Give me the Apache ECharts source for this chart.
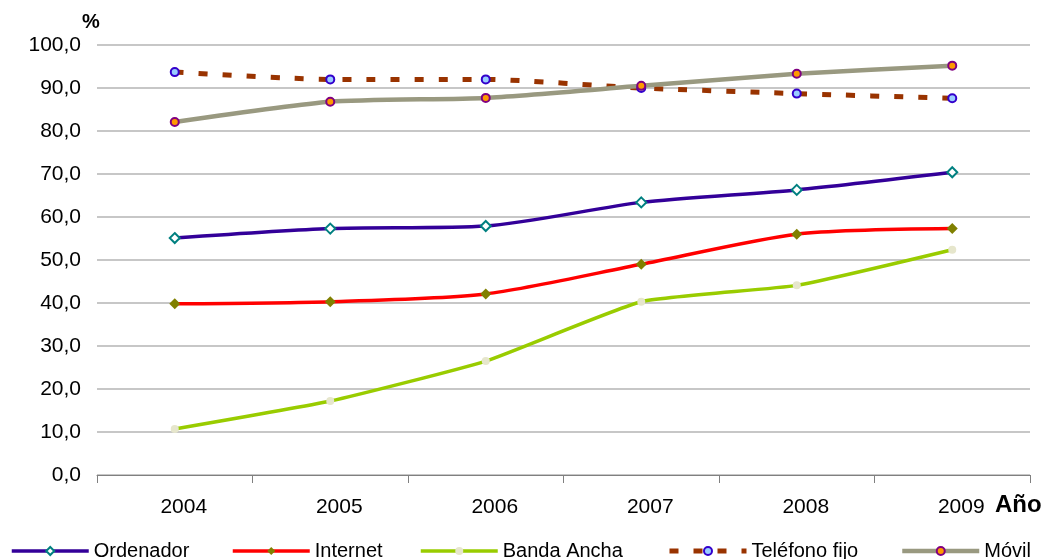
<!DOCTYPE html>
<html>
<head>
<meta charset="utf-8">
<script src="https://cdn.jsdelivr.net/npm/echarts@6/dist/echarts.min.js"></script>
<style>html,body{margin:0;padding:0;background:#fff}#c{width:1045px;height:559px}</style>
</head>
<body>
<div id="c"></div>
<script>
const years = ['2004','2005','2006','2007','2008','2009'];
const ordenador = [55.1, 57.3, 57.9, 63.4, 66.3, 70.4];
const internet = [39.8, 40.3, 42.1, 49.0, 56.0, 57.3];
const bandaAncha = [10.7, 17.2, 26.5, 40.3, 44.1, 52.4];
const telefonoFijo = [93.7, 92.0, 92.0, 90.0, 88.7, 87.6];
const movil = [82.1, 86.8, 87.7, 90.5, 93.3, 95.2];
const yTicks = [0, 10, 20, 30, 40, 50, 60, 70, 80, 90, 100];

const font = 'Liberation Sans, Arial, sans-serif';
const chart = echarts.init(document.getElementById('c'));
const legendBase = {
  top: 541, itemWidth: 77, itemHeight: 10, itemGap: 0, padding: 0,
  textStyle: {fontFamily: font, fontSize: 20, color: '#000'}
};
const names = ['Ordenador','Internet','Banda Ancha','Teléfono fijo','Móvil'];
const legendLeft = [10, 231, 419, 667, 900];
const legendLineW = [3.5, 3.5, 3.5, 5, 4.5];
chart.setOption({
  animation: false,
  grid: {left: 97, right: 15, top: 45, bottom: 84},
  legend: names.map((n, i) => Object.assign({}, legendBase, {
    left: legendLeft[i], data: [n], lineStyle: {width: legendLineW[i]}})),
  graphic: [
    {type: 'text', left: 82, top: 12, style: {text: '%', font: 'bold 20px ' + font, fill: '#000'}},
    {type: 'text', left: 995, top: 493, style: {text: 'Año', font: 'bold 24px ' + font, fill: '#000'}}
  ],
  xAxis: {
    type: 'category', data: years, boundaryGap: true,
    axisLine: {lineStyle: {color: '#808080', width: 1}},
    axisTick: {show: true, interval: 0, length: 8, lineStyle: {color: '#808080'}},
    axisLabel: {margin: 22, padding: [0, 0, 0, 18], fontFamily: font, fontSize: 21, color: '#000'}
  },
  yAxis: {
    type: 'value', min: yTicks[0], max: yTicks[yTicks.length - 1], interval: 10,
    axisLine: {show: false}, axisTick: {show: false},
    splitLine: {lineStyle: {color: '#b4b4b4', width: 1.5}},
    axisLabel: {margin: 16, fontFamily: font, fontSize: 21, color: '#000',
      formatter: v => v.toFixed(1).replace('.', ',')}
  },
  series: [
    {name: 'Ordenador', type: 'line', data: ordenador, smooth: 0.25,
      symbol: 'diamond', symbolSize: 10, showAllSymbol: true,
      lineStyle: {color: '#330099', width: 3.5},
      itemStyle: {color: '#ffffff', borderColor: '#008080', borderWidth: 2}},
    {name: 'Internet', type: 'line', data: internet, smooth: 0.25,
      symbol: 'diamond', symbolSize: 11,
      lineStyle: {color: '#ff0000', width: 3.5},
      itemStyle: {color: '#808000', borderColor: '#808000', borderWidth: 0}},
    {name: 'Banda Ancha', type: 'line', data: bandaAncha, smooth: 0.15,
      symbol: 'circle', symbolSize: 8,
      lineStyle: {color: '#99cc00', width: 3.5},
      itemStyle: {color: '#e6e6cc', borderWidth: 0}},
    {name: 'Teléfono fijo', type: 'line', data: telefonoFijo, smooth: 0.2,
      symbol: 'circle', symbolSize: 8,
      lineStyle: {color: '#993300', width: 5, type: [9, 15]},
      itemStyle: {color: '#99ccff', borderColor: '#3300cc', borderWidth: 2}},
    {name: 'Móvil', type: 'line', data: movil, smooth: 0.2,
      symbol: 'circle', symbolSize: 8,
      lineStyle: {color: '#999980', width: 4.5},
      itemStyle: {color: '#ff9900', borderColor: '#800080', borderWidth: 2}}
  ]
});
</script>
</body>
</html>
